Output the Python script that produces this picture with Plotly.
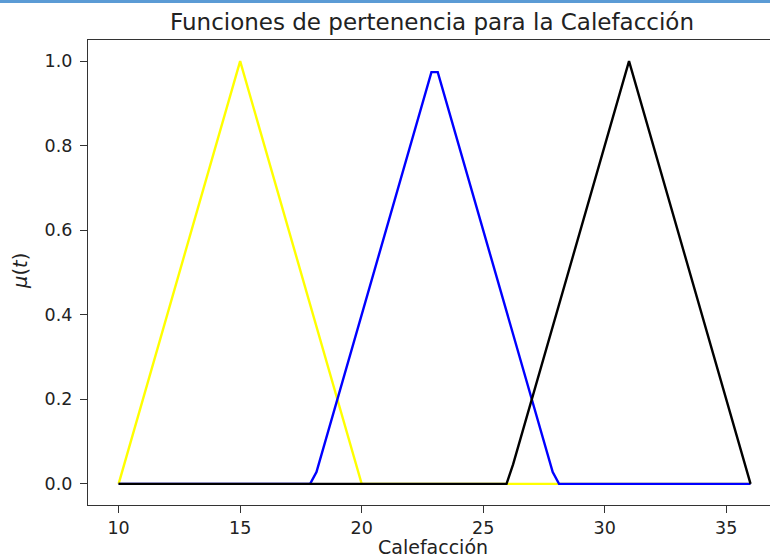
import plotly.graph_objects as go

# Membership function vertices (Calefacción universe 10..36)
frio_x = [10, 15, 20, 36]
frio_y = [0.0, 1.0, 0.0, 0.0]

templado_x = [10, 17.88, 18.14, 22.87, 23.13, 27.86, 28.12, 36]
templado_y = [0.0, 0.0, 0.028, 0.974, 0.974, 0.028, 0.0, 0.0]

caliente_x = [10, 25.96, 26.23, 31, 36]
caliente_y = [0.0, 0.0, 0.046, 1.0, 0.0]

x_ticks = [10, 15, 20, 25, 30, 35]
x_tick_labels = ["10", "15", "20", "25", "30", "35"]
y_ticks = [0.0, 0.2, 0.4, 0.6, 0.8, 1.0]
y_tick_labels = ["0.0", "0.2", "0.4", "0.6", "0.8", "1.0"]

W, H = 770, 559
ML, MR, MT, MB = 88, 0, 40, 54
PW, PH = W - ML - MR, H - MT - MB

FONT = "DejaVu Sans"
AX = "#333333"
TXT = "#222222"

fig = go.Figure()
for xs, ys, col in [(frio_x, frio_y, "#ffff00"),
                    (templado_x, templado_y, "#0000ff"),
                    (caliente_x, caliente_y, "#000000")]:
    fig.add_trace(go.Scatter(x=xs, y=ys, mode="lines",
                             line=dict(color=col, width=2.4),
                             hoverinfo="skip", showlegend=False))

def px_x(p):
    return (p - ML) / PW

def px_y(p):
    return (H - MB - p) / PH

fig.update_layout(
    width=W, height=H,
    margin=dict(l=ML, r=MR, t=MT, b=MB, pad=0),
    paper_bgcolor="white", plot_bgcolor="white",
    font=dict(family=FONT, color=TXT, size=17.5),
    xaxis=dict(range=[8.74, 36.8], tickvals=x_ticks, ticktext=x_tick_labels,
               ticks="outside", ticklen=7, tickwidth=1.2, tickcolor=AX,
               showline=True, linecolor=AX, linewidth=1.2, mirror=True,
               showgrid=False, zeroline=False, tickfont=dict(size=17.5)),
    yaxis=dict(range=[-0.05, 1.05], tickvals=y_ticks, ticktext=y_tick_labels,
               ticks="outside", ticklen=7, tickwidth=1.2, tickcolor=AX,
               showline=True, linecolor=AX, linewidth=1.2, mirror=False,
               showgrid=False, zeroline=False, tickfont=dict(size=17.5),
               ticklabelstandoff=4),
    shapes=[dict(type="rect", xref="paper", yref="paper",
                 x0=px_x(0), x1=px_x(W), y0=px_y(3), y1=px_y(0),
                 fillcolor="#5b9bd5", line=dict(width=0), layer="above")],
    annotations=[
        dict(text="Funciones de pertenencia para la Calefacción",
             xref="paper", yref="paper", x=px_x(432), y=px_y(22),
             xanchor="center", yanchor="middle", showarrow=False,
             font=dict(size=23, family=FONT, color=TXT)),
        dict(text="Calefacción", xref="paper", yref="paper",
             x=px_x(433), y=px_y(560), xanchor="center", yanchor="bottom",
             showarrow=False, font=dict(size=19, family=FONT, color=TXT)),
        dict(text="<i>μ</i>(<i>t</i>)", xref="paper", yref="paper",
             x=px_x(20), y=px_y(271), xanchor="center", yanchor="middle",
             textangle=-90, showarrow=False,
             font=dict(size=19.5, family=FONT, color=TXT)),
    ],
)

fig.write_html("out.html")
